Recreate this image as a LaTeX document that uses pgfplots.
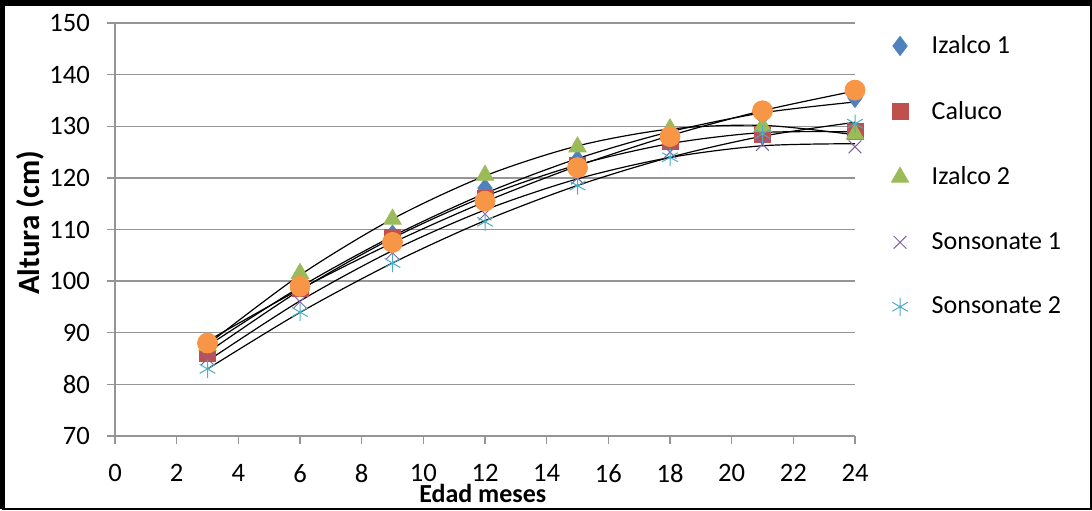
\documentclass[border=0pt]{standalone}
\usepackage{fontspec}
\setmainfont{Carlito}
\usepackage{pgfplots}
\pgfplotsset{compat=1.18}
\definecolor{cA}{HTML}{4F81BD}
\definecolor{cB}{HTML}{C0504D}
\definecolor{cC}{HTML}{9BBB59}
\definecolor{cD}{HTML}{8064A2}
\definecolor{cE}{HTML}{4BACC6}
\definecolor{cF}{HTML}{F79646}
\definecolor{gridc}{HTML}{959595}
\begin{document}
\begin{tikzpicture}[x=1pt,y=1pt]
\useasboundingbox (0,0) rectangle (546,255);
\begin{axis}[
  at={(57.5pt,37pt)}, anchor=south west,
  scale only axis, width=370pt, height=206.5pt,
  xmin=0, xmax=24, ymin=70, ymax=150,
  xtick={0,2,...,24}, ytick={70,80,...,150},
  axis lines*=left, axis line style={-, draw=gridc, line width=0.7pt},
  ymajorgrids, grid style={draw=gridc, line width=0.7pt},
  tick style={draw=gridc, line width=0.7pt}, tick align=outside, major tick length=4pt,
  /pgf/number format/assume math mode=true,
  ticklabel style={font=\fontsize{13.3}{15}\selectfont},
  xticklabel shift=6.5pt, yticklabel shift=5pt,
  xlabel={\textbf{Edad meses}}, ylabel={\textbf{Altura (cm)}},
  xlabel style={font=\fontsize{13}{15}\selectfont, at={(axis description cs:0.497,-0.138)}, anchor=center},
  ylabel style={font=\fontsize{15.5}{17}\selectfont, at={(axis description cs:-0.1149,0.516)}, anchor=center},
  legend style={draw=none, fill=none, at={(rel axis cs:1,1)}, anchor=north west,
    xshift=15pt, yshift=-2pt, font=\fontsize{13}{15}\selectfont, row sep=18.3pt,
    column sep=9.5pt},
  legend cell align=left,
  legend image code/.code={\draw[#1] plot coordinates {(0pt,0pt)};},
  clip=false,
]
% data markers
\addplot[only marks, mark=diamond*, mark size=4.8pt, color=cA, mark options={fill=cA, draw=cA}] coordinates {
(3,87) (6,99) (9,109) (12,118) (15,123.5) (18,128) (21,132) (24,135.5)};
\addlegendentry{Izalco 1}
\addplot[only marks, mark=square*, mark size=4pt, color=cB, mark options={fill=cB, draw=cB}] coordinates {
(3,86) (6,98.5) (9,108.5) (12,116) (15,122.5) (18,127) (21,128.5) (24,129)};
\addlegendentry{Caluco}
\addplot[only marks, mark=triangle*, mark size=5pt, color=cC, mark options={fill=cC, draw=cC}] coordinates {
(3,87.5) (6,101.5) (9,112) (12,120.5) (15,126) (18,129.5) (21,130) (24,128.5)};
\addlegendentry{Izalco 2}
\addplot[only marks, mark=x, mark size=4.5pt, color=cD, mark options={draw=cD, line width=0.5pt}] coordinates {
(3,85) (6,96) (9,105.5) (12,113) (15,120) (18,125) (21,126.5) (24,126)};
\addlegendentry{Sonsonate 1}
\addplot[only marks, mark=asterisk, mark size=4.5pt, color=cE, mark options={draw=cE, line width=0.5pt}] coordinates {
(3,83) (6,94) (9,103.5) (12,111.5) (15,118.5) (18,124) (21,128.5) (24,130.5)};
\addlegendentry{Sonsonate 2}
\addplot[forget plot, only marks, mark=*, mark size=5pt, color=cF, mark options={fill=cF, draw=cF}] coordinates {
(3,88) (6,99) (9,107.5) (12,115.5) (15,122) (18,128) (21,133) (24,137)};
% quadratic trendlines (fitted values)
\addplot[forget plot, black, line width=0.6pt, smooth, no marks] coordinates {
(3,87.45) (6,98.85) (9,108.69) (12,116.99) (15,123.74) (18,128.94) (21,132.60) (24,134.70)};
\addplot[forget plot, black, line width=0.6pt, smooth, no marks] coordinates {
(3,86.17) (6,98.24) (9,108.32) (12,116.42) (15,122.52) (18,126.64) (21,128.78) (24,128.91)};
\addplot[forget plot, black, line width=0.6pt, smooth, no marks] coordinates {
(3,87.73) (6,101.16) (9,112.04) (12,120.39) (15,126.19) (18,129.46) (21,130.18) (24,128.35)};
\addplot[forget plot, black, line width=0.6pt, smooth, no marks] coordinates {
(3,84.54) (6,96.16) (9,105.91) (12,113.79) (15,119.81) (18,123.95) (21,126.22) (24,126.62)};
\addplot[forget plot, black, line width=0.6pt, smooth, no marks] coordinates {
(3,82.99) (6,93.93) (9,103.51) (12,111.72) (15,118.54) (18,123.99) (21,128.07) (24,130.77)};
\addplot[forget plot, black, line width=0.6pt, smooth, no marks] coordinates {
(3,88.41) (6,98.44) (9,107.42) (12,115.38) (15,122.30) (18,128.18) (21,133.02) (24,136.83)};
\end{axis}
\draw[line width=2.4pt] (1.2,0.6) -- (1.2,253.8);
\draw[line width=2.8pt] (0,253.6) -- (546,253.6);
\draw[line width=1.0pt] (0.8,0.5) -- (545.5,0.5) -- (545.5,253.2);
\end{tikzpicture}
\end{document}
